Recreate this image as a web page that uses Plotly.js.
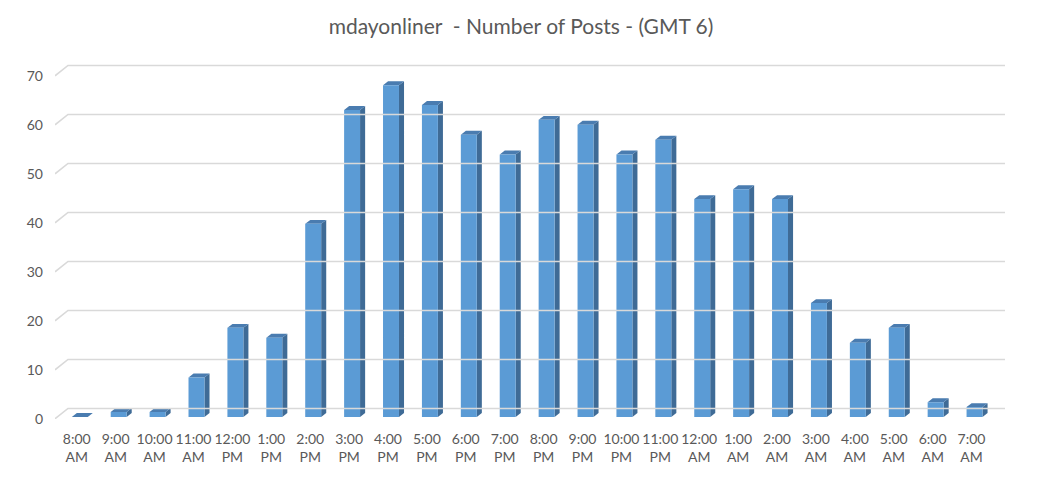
<!DOCTYPE html>
<html>
<head>
<meta charset="utf-8">
<script src="https://cdn.plot.ly/plotly-3.0.1.min.js"></script>
<style>html,body{margin:0;padding:0;background:#fff;}#chart{width:1042px;height:477px;}</style>
</head>
<body>
<div id="chart"></div>
<script>
// Data
const categories = ["8:00 AM","9:00 AM","10:00 AM","11:00 AM","12:00 PM","1:00 PM","2:00 PM","3:00 PM","4:00 PM","5:00 PM","6:00 PM","7:00 PM","8:00 PM","9:00 PM","10:00 PM","11:00 PM","12:00 AM","1:00 AM","2:00 AM","3:00 AM","4:00 AM","5:00 AM","6:00 AM","7:00 AM"];
const posts = [0,1,1,8,18,16,39,62,67,63,57,53,60,59,53,56,44,46,44,23,15,18,3,2];
const yTicks = [0,10,20,30,40,50,60,70];

// Pseudo-3D styling (in axis units)
const barW = 0.41, barShift = 0.077, depthX = 0.13, depthY = 0.8;
const wallX = 0.334, wallY = 2.1, xMin = -0.56, xMax = 23.86;

const idx = categories.map((c, i) => i);
const tickText = categories.map(c => c.replace(' ', '<br>'));

// back-wall gridlines with floor connectors (front plane = y2)
const gx = [], gy = [];
yTicks.forEach(t => { gx.push(xMin, xMin + wallX, xMax, null); gy.push(t, t + wallY, t + wallY, null); });

const fx = [], fy = [], sx = [], sy = [], tx = [], ty = [];
posts.forEach((v, i) => {
  const xl = i + barShift - barW / 2, xr = i + barShift + barW / 2;
  fx.push(xl, xr, xr, xl, xl, null);
  fy.push(0, 0, v, v, 0, null);
  sx.push(xr, xr, xr + depthX, xr + depthX, xr, null);
  sy.push(0, v, v + depthY, depthY, 0, null);
  tx.push(xl, xr, xr + depthX, xl + depthX, xl, null);
  ty.push(v, v, v + depthY, v + depthY, v, null);
});

const traces = [
  {type: 'scatter', mode: 'lines', x: gx, y: gy, yaxis: 'y2', line: {color: '#d9d9d9', width: 1.6}, hoverinfo: 'skip', showlegend: false},
  {type: 'scatter', mode: 'lines', x: sx, y: sy, fill: 'toself', fillcolor: '#3f6b96', line: {width: 0, color: '#3f6b96'}, hoverinfo: 'skip', showlegend: false},
  {type: 'scatter', mode: 'lines', x: tx, y: ty, fill: 'toself', fillcolor: '#4a7cb0', line: {width: 0, color: '#4a7cb0'}, hoverinfo: 'skip', showlegend: false},
  {type: 'scatter', mode: 'lines', x: fx, y: fy, fill: 'toself', fillcolor: '#5b9bd5', line: {width: 0, color: '#5b9bd5'}, hoverinfo: 'skip', showlegend: false}
];

const layout = {
  width: 1042, height: 477,
  margin: {l: 55, r: 37, t: 53, b: 58},
  paper_bgcolor: '#ffffff', plot_bgcolor: '#ffffff',
  font: {family: 'Lato, "Open Sans", sans-serif', color: '#595959', size: 14},
  title: {text: 'mdayonliner&nbsp; - Number of Posts - (GMT 6)', x: 0.5, xanchor: 'center', y: 0.945, yanchor: 'middle', font: {size: 21, color: '#595959'}},
  xaxis: {range: [xMin, xMax], tickvals: idx, ticktext: tickText, showgrid: false, zeroline: false, showline: false, ticks: '', ticklabelstandoff: 10, fixedrange: true},
  yaxis: {range: [-0.4, 73.5], showticklabels: false, showgrid: false, zeroline: false, showline: false, ticks: '', fixedrange: true},
  yaxis2: {overlaying: 'y', side: 'left', range: [-0.05, 74.65], tickvals: yTicks, showgrid: false, zeroline: false, showline: false, ticks: '', ticklabelstandoff: 11, fixedrange: true}
};

Plotly.newPlot('chart', traces, layout, {displayModeBar: false, staticPlot: true});
</script>
</body>
</html>
